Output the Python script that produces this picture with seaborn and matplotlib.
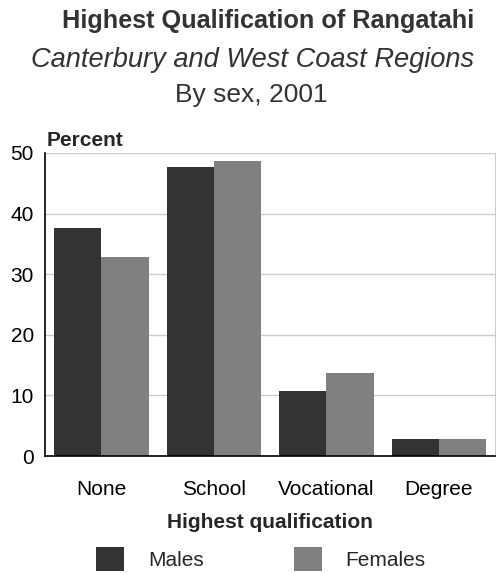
import numpy as np
import pandas as pd
import matplotlib
matplotlib.use('Agg')
import matplotlib.pyplot as plt
import seaborn as sb
from matplotlib.patches import Patch

categories = ['None', 'School', 'Vocational', 'Degree']
males = [37.7, 47.7, 10.7, 2.8]
females = [32.8, 48.7, 13.7, 2.8]
series = ['Males', 'Females']
colors = ['#333333', '#808080']

df = pd.DataFrame({
    'qual': categories * 2,
    'pct': males + females,
    'sex': ['Males'] * 4 + ['Females'] * 4,
})

sb.set_style('white')
plt.rcParams['font.family'] = ['Liberation Sans', 'DejaVu Sans']

fig = plt.figure(figsize=(4.96, 5.74), dpi=100)
ax = fig.add_axes([45/496, 1 - 456/574, 450/496, 303/574])

sb.barplot(data=df, x='qual', y='pct', hue='sex', order=categories,
           hue_order=series, palette=colors, saturation=1, width=0.84,
           linewidth=0, legend=False, ax=ax)

ax.set_ylim(0, 50)
ax.set_xlim(-0.5, 3.5)
ax.set_yticks([0, 10, 20, 30, 40, 50])
ax.yaxis.grid(True, color='#cccccc', linewidth=1)
ax.set_axisbelow(True)
ax.tick_params(axis='both', length=0, labelsize=15, colors='black')
ax.tick_params(axis='x', pad=17)
ax.tick_params(axis='y', pad=8)
for s in ['left', 'bottom']:
    ax.spines[s].set_color('black')
    ax.spines[s].set_linewidth(1.2)
ax.spines['top'].set_visible(False)
ax.spines['right'].set_color('#cccccc')
ax.set_ylabel('')
ax.set_xlabel('Highest qualification', fontsize=15, fontweight='bold', labelpad=10)
ax.text(2/450, 1 + 13/303, 'Percent', transform=ax.transAxes, fontsize=15,
        fontweight='bold', ha='left', va='center')

fig.text(268/496, 1 - 21/574, 'Highest Qualification of Rangatahi', ha='center',
         va='center', fontsize=18.2, fontweight='bold', color='#333333')
fig.text(253/496, 1 - 60/574, 'Canterbury and West Coast Regions', ha='center',
         va='center', fontsize=19.6, style='italic', color='#333333')
fig.text(251/496, 1 - 95/574, 'By sex, 2001', ha='center', va='center',
         fontsize=19, color='#333333')

handles = [Patch(facecolor=c, edgecolor='none', label=l) for c, l in zip(colors, series)]
fig.legend(handles=handles, loc='center', bbox_to_anchor=(261/496, 1 - 559/574),
           ncol=2, frameon=False, fontsize=15, handlelength=1.35,
           handleheight=1.4, handletextpad=1.15, columnspacing=4.3)

fig.savefig('out.png', dpi=100)
